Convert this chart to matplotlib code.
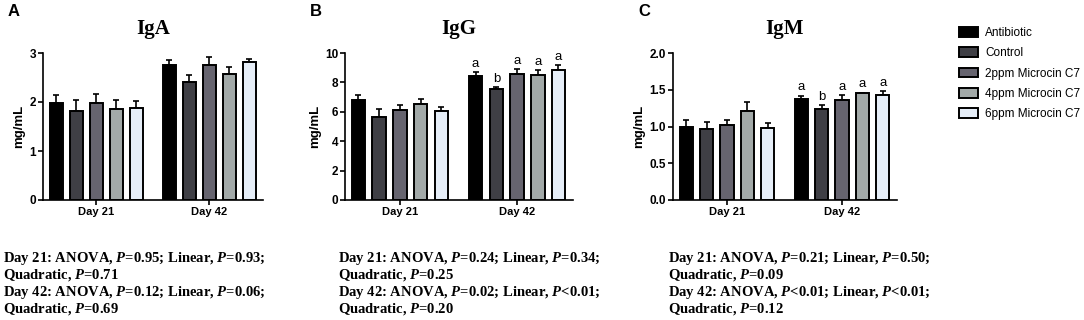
import numpy as np
import matplotlib.pyplot as plt
from matplotlib.patches import Patch

plt.rcParams['font.family'] = ['Liberation Sans', 'DejaVu Sans']
plt.rcParams['mathtext.fontset'] = 'custom'
plt.rcParams['mathtext.rm'] = 'Liberation Serif:bold'
plt.rcParams['mathtext.it'] = 'Liberation Serif:bold:italic'

groups = ["Day 21", "Day 42"]
treatments = ["Antibiotic", "Control", "2ppm Microcin C7",
              "4ppm Microcin C7", "6ppm Microcin C7"]
colors = ["#000000", "#3f3f45", "#66646f", "#a2a9a8", "#e6eef8"]

# mean values per treatment, [Day 21, Day 42]
iga_mean = [[1.98, 2.75], [1.81, 2.40], [1.97, 2.75], [1.85, 2.58], [1.87, 2.82]]
iga_err = [[0.17, 0.11], [0.24, 0.15], [0.20, 0.16], [0.19, 0.14], [0.15, 0.06]]
igg_mean = [[6.83, 8.44], [5.66, 7.53], [6.11, 8.60], [6.54, 8.48], [6.06, 8.85]]
igg_err = [[0.30, 0.27], [0.56, 0.16], [0.32, 0.31], [0.34, 0.34], [0.30, 0.31]]
igm_mean = [[1.00, 1.38], [0.96, 1.24], [1.02, 1.36], [1.21, 1.45], [0.98, 1.43]]
igm_err = [[0.09, 0.04], [0.10, 0.05], [0.07, 0.07], [0.12, 0.01], [0.07, 0.05]]

igg_letters = [["", "a"], ["", "b"], ["", "a"], ["", "a"], ["", "a"]]
igm_letters = [["", "a"], ["", "b"], ["", "a"], ["", "a"], ["", "a"]]

iga_stats = ["Day 21: ANOVA, $P$=0.95; Linear, $P$=0.93;", "Quadratic, $P$=0.71",
             "Day 42: ANOVA, $P$=0.12; Linear, $P$=0.06;", "Quadratic, $P$=0.69"]
igg_stats = ["Day 21: ANOVA, $P$=0.24; Linear, $P$=0.34;", "Quadratic, $P$=0.25",
             "Day 42: ANOVA, $P$=0.02; Linear, $P$<0.01;", "Quadratic, $P$=0.20"]
igm_stats = ["Day 21: ANOVA, $P$=0.21; Linear, $P$=0.50;", "Quadratic, $P$=0.09",
             "Day 42: ANOVA, $P$<0.01; Linear, $P$<0.01;", "Quadratic, $P$=0.12"]

panels = [
    ("A", "IgA", iga_mean, iga_err, None, (0, 3), [0, 1, 2, 3], "{:.0f}", iga_stats),
    ("B", "IgG", igg_mean, igg_err, igg_letters, (0, 10), [0, 2, 4, 6, 8, 10], "{:.0f}", igg_stats),
    ("C", "IgM", igm_mean, igm_err, igm_letters, (0, 2), [0, 0.5, 1, 1.5, 2], "{:.1f}", igm_stats),
]

fig = plt.figure(figsize=(10.84, 3.2), dpi=100)

ax_rects = [[43, 263], [345, 573], [673, 897]]
text_x = [3, 338, 668]
group_x = np.array([0, 5.65])

for (letter, title, mean, err, letters, ylim, yticks, fmt, stats), (l, r), tx in zip(panels, ax_rects, text_x):
    ax = fig.add_axes([l / 1084, 120 / 320, (r - l) / 1084, 147 / 320])
    for i in range(5):
        xs = group_x + (i - 2)
        ax.bar(xs, mean[i], width=0.65, color=colors[i], edgecolor="black",
               linewidth=1.4, zorder=2)
        ax.errorbar(xs, mean[i], yerr=[np.zeros(2), err[i]], fmt="none",
                    ecolor="black", elinewidth=1.2, capsize=2.5, capthick=1.2, zorder=1)
        if letters is not None:
            for j in range(2):
                if letters[i][j]:
                    ax.text(xs[j], mean[i][j] + err[i][j] + ylim[1] * 0.015,
                            letters[i][j], ha="center", va="bottom", fontsize=9.5)
    ax.set_xlim(-2.65, 8.35)
    ax.set_ylim(*ylim)
    ax.set_yticks(yticks)
    ax.set_yticklabels([fmt.format(v) for v in yticks], fontweight="bold", fontsize=8.5)
    ax.set_xticks(group_x)
    ax.set_xticklabels(groups, fontweight="bold", fontsize=8)
    ax.tick_params(axis="both", width=1.2, length=3.5, pad=1.5)
    ax.spines["top"].set_visible(False)
    ax.spines["right"].set_visible(False)
    ax.spines["left"].set_linewidth(1.2)
    ax.spines["bottom"].set_linewidth(1.2)
    ax.set_ylabel("mg/mL", fontweight="bold", fontsize=9.5, labelpad=3)
    ax.set_title(title, family="Liberation Serif", fontweight="bold", fontsize=15, pad=14)
    fig.text((l - 35) / 1084, 1 - 12 / 320, letter, fontsize=12, fontweight="bold",
             ha="left", va="center")
    for k, line in enumerate(stats):
        fig.text(tx / 1084, 1 - (262 + 17 * k) / 320, line, family="Liberation Serif",
                 fontweight="bold", fontsize=10.5, ha="left", va="baseline")

handles = [Patch(facecolor=c, edgecolor="black", linewidth=1.4) for c in colors]
fig.legend(handles, treatments, loc="upper left", bbox_to_anchor=(959 / 1084, 1 - 27 / 320),
           frameon=False, fontsize=8.5, handlelength=1.6, handleheight=0.9,
           labelspacing=0.7, handletextpad=0.6, borderaxespad=0, borderpad=0)

fig.savefig("out.png", dpi=100)
